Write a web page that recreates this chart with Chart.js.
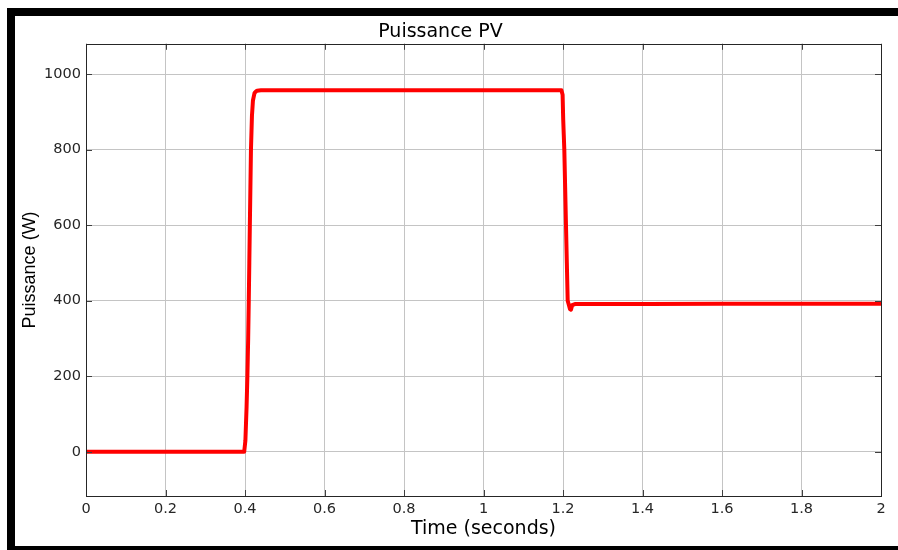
<!DOCTYPE html>
<html>
<head>
<meta charset="utf-8">
<script src="https://cdn.jsdelivr.net/npm/chart.js@4"></script>
<style>
    html, body { margin: 0; padding: 0; background: #fff; }
    #wrap { position: relative; width: 898px; height: 550px; overflow: hidden; }
    .bar { position: absolute; background: #000; }
</style>
</head>
<body>
<div id="wrap">
    <canvas id="pvChart" width="898" height="550"></canvas>
    <div class="bar" style="left:7px; top:8px; width:891px; height:8px;"></div>
    <div class="bar" style="left:7px; top:8px; width:8px; height:542px;"></div>
    <div class="bar" style="left:7px; top:546px; width:891px; height:4px;"></div>
</div>
<script>
// Puissance PV
const timeValues = [0, 0.398, 0.401, 0.404, 0.406, 0.408, 0.4095, 0.4122, 0.415, 0.4175, 0.420, 0.424, 0.430, 0.440,
    0.800, 1.196, 1.199, 1.2005, 1.2033, 1.2075, 1.2118, 1.2175, 1.220, 1.223, 1.230, 1.600, 2.000];
const powerValues = [0, 0, 30, 120, 200, 300, 400, 600, 800, 890, 930, 950, 956, 957,
    957, 957, 945, 880, 800, 600, 400, 378, 376, 388, 391, 392, 392];
const xTicks = [0, 0.2, 0.4, 0.6, 0.8, 1, 1.2, 1.4, 1.6, 1.8, 2];
const yTicks = [0, 200, 400, 600, 800, 1000];

const textColor = '#262626';
const gridColor = '#c4c4c4';
const wideFont = 'DejaVu Sans, Verdana, sans-serif';

// MATLAB style box with inward tick marks
const axesBox = {
    id: 'axesBox',
    afterDraw(chart) {
        const { ctx, chartArea: a, scales } = chart;
        ctx.save();
        ctx.strokeStyle = '#404040';
        ctx.lineWidth = 1;
        ctx.beginPath();
        xTicks.forEach(v => {
            const px = Math.round(scales.x.getPixelForValue(v)) + 0.5;
            ctx.moveTo(px, a.bottom); ctx.lineTo(px, a.bottom - 6);
            ctx.moveTo(px, a.top); ctx.lineTo(px, a.top + 6);
        });
        yTicks.forEach(v => {
            const py = Math.round(scales.y.getPixelForValue(v)) + 0.5;
            ctx.moveTo(a.left, py); ctx.lineTo(a.left + 6, py);
            ctx.moveTo(a.right, py); ctx.lineTo(a.right - 6, py);
        });
        ctx.stroke();
        ctx.strokeStyle = '#262626';
        ctx.strokeRect(Math.round(a.left) + 0.5, Math.round(a.top) + 0.5,
            Math.round(a.right - a.left), Math.round(a.bottom - a.top));
        ctx.restore();
    }
};

document.addEventListener('DOMContentLoaded', () => {
    new Chart(document.getElementById('pvChart'), {
        type: 'line',
        data: {
            datasets: [{
                label: 'Puissance PV',
                data: timeValues.map((t, i) => ({ x: t, y: powerValues[i] })),
                borderColor: '#ff0000',
                borderWidth: 4,
                borderJoinStyle: 'round',
                pointRadius: 0,
                // tiny tension keeps chart.js off its fast path (which merges same-pixel points)
                tension: 0.0001,
                fill: false
            }]
        },
        options: {
            responsive: false,
            animation: false,
            layout: { padding: { left: 0, top: 0, right: 17, bottom: 0 } },
            plugins: {
                legend: { display: false },
                tooltip: { enabled: false },
                title: {
                    display: true,
                    text: 'Puissance PV',
                    color: '#000',
                    font: { family: wideFont, size: 19, weight: 'normal' },
                    padding: { top: 21, bottom: 0 }
                }
            },
            scales: {
                x: {
                    type: 'linear',
                    min: 0,
                    max: 2,
                    afterFit: s => { s.height = 54; },
                    afterBuildTicks: s => { s.ticks = xTicks.map(v => ({ value: v })); },
                    grid: { color: gridColor, drawTicks: false },
                    border: { display: false },
                    ticks: {
                        color: textColor,
                        padding: 5,
                        maxRotation: 0,
                        font: { family: wideFont, size: 14.5 },
                        callback: v => String(Number(v.toFixed(1)))
                    },
                    title: {
                        display: true,
                        text: 'Time (seconds)',
                        color: '#000',
                        font: { family: wideFont, size: 19 },
                        padding: { top: 0, bottom: 10 }
                    }
                },
                y: {
                    min: -117,
                    max: 1080,
                    afterFit: s => { s.width = 86; },
                    afterBuildTicks: s => { s.ticks = yTicks.map(v => ({ value: v })); },
                    grid: { color: gridColor, drawTicks: false },
                    border: { display: false },
                    ticks: {
                        color: textColor,
                        padding: 5,
                        font: { family: wideFont, size: 14.5 },
                        callback: v => String(v)
                    },
                    title: {
                        display: true,
                        text: 'Puissance (W)',
                        color: '#000',
                        font: { family: 'Liberation Sans, Arial, sans-serif', size: 18 },
                        padding: { top: 19, bottom: 0 }
                    }
                }
            }
        },
        plugins: [axesBox]
    });
});
</script>
</body>
</html>
